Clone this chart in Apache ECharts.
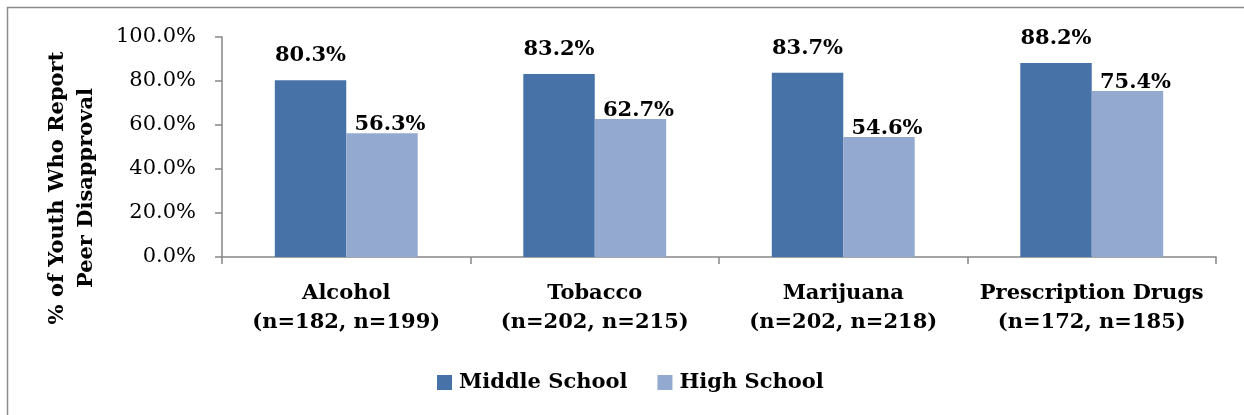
<!DOCTYPE html>
<html>
<head>
<meta charset="utf-8">
<script src="https://cdn.jsdelivr.net/npm/echarts@6/dist/echarts.min.js"></script>
<style>
  html, body { margin: 0; padding: 0; background: #ffffff; }
  #chart { width: 1244px; height: 415px; }
</style>
</head>
<body>
<div id="chart"></div>
<script>
// Substance categories with sample sizes (middle school, high school)
const categories = [
  'Alcohol\n(n=182, n=199)',
  'Tobacco\n(n=202, n=215)',
  'Marijuana\n(n=202, n=218)',
  'Prescription Drugs\n(n=172, n=185)'
];
// Percent of youth reporting peer disapproval
const middleSchool = [80.3, 83.2, 83.7, 88.2];
const highSchool = [56.3, 62.7, 54.6, 75.4];
const yTicks = [0, 20, 40, 60, 80, 100];

const FONT = '"DejaVu Serif", "Liberation Serif", serif';
const AXIS_GRAY = '#868686';

const chart = echarts.init(document.getElementById('chart'), null, { renderer: 'canvas' });

chart.setOption({
  animation: false,
  backgroundColor: '#ffffff',
  textStyle: { fontFamily: FONT },
  grid: { left: 222, top: 37, right: 28, bottom: 158 },
  legend: {
    left: 432,
    top: 367,
    itemWidth: 15,
    itemHeight: 15,
    itemGap: 30,
    icon: 'rect',
    textStyle: { fontFamily: FONT, fontWeight: 'bold', fontSize: 21, color: '#000', padding: [0, 0, 0, 2] },
    data: ['Middle School', 'High School']
  },
  xAxis: {
    type: 'category',
    data: categories,
    axisLine: { lineStyle: { color: AXIS_GRAY, width: 1.5 } },
    axisTick: { show: true, length: 7, lineStyle: { color: AXIS_GRAY, width: 1.5 } },
    axisLabel: {
      interval: 0,
      margin: 22,
      fontFamily: FONT,
      fontWeight: 'bold',
      fontSize: 21,
      lineHeight: 29,
      color: '#000'
    }
  },
  yAxis: {
    type: 'value',
    min: yTicks[0],
    max: yTicks[yTicks.length - 1],
    interval: 20,
    splitLine: { show: false },
    axisLine: { show: true, lineStyle: { color: AXIS_GRAY, width: 1.5 } },
    axisTick: { show: true, length: 7, lineStyle: { color: AXIS_GRAY, width: 1.5 } },
    axisLabel: {
      margin: 26,
      fontFamily: FONT,
      fontSize: 21,
      color: '#000',
      formatter: v => v.toFixed(1) + '%'
    }
  },
  series: [
    {
      name: 'Middle School',
      type: 'bar',
      data: middleSchool,
      barGap: '0%',
      barCategoryGap: '42.5%',
      itemStyle: { color: '#4672A7' },
      label: {
        show: true,
        position: 'top',
        distance: 14,
        fontFamily: FONT,
        fontWeight: 'bold',
        fontSize: 21,
        color: '#000',
        formatter: p => p.value.toFixed(1) + '%'
      }
    },
    {
      name: 'High School',
      type: 'bar',
      data: highSchool,
      barGap: '0%',
      barCategoryGap: '42.5%',
      itemStyle: { color: '#93A9CF' },
      label: {
        show: true,
        position: 'top',
        distance: -2,
        offset: [8, 0],
        fontFamily: FONT,
        fontWeight: 'bold',
        fontSize: 21,
        color: '#000',
        formatter: p => p.value.toFixed(1) + '%'
      }
    }
  ],
  graphic: [
    {
      type: 'rect',
      silent: true,
      shape: { x: 7.5, y: 7.5, width: 1400, height: 600 },
      style: { fill: 'none', stroke: '#8a8a8a', lineWidth: 1.5 }
    },
    {
      type: 'text',
      silent: true,
      x: 72,
      y: 188,
      rotation: Math.PI / 2,
      style: {
        text: '% of Youth Who Report\nPeer Disapproval',
        fontFamily: FONT,
        fontWeight: 'bold',
        fontSize: 21,
        lineHeight: 29,
        fill: '#000',
        align: 'center',
        verticalAlign: 'middle'
      }
    }
  ]
});
</script>
</body>
</html>
